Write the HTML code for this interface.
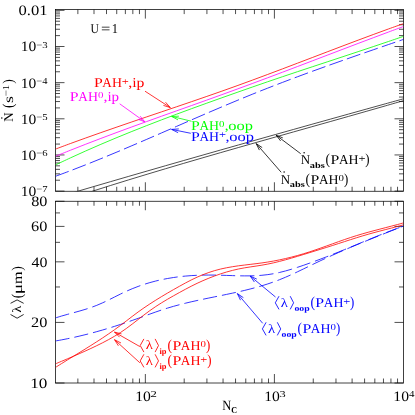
<!DOCTYPE html><html><head><meta charset="utf-8"><style>html,body{margin:0;padding:0;background:#fff}svg{display:block}text{font-family:"Liberation Serif",serif;font-kerning:none;white-space:pre;text-rendering:geometricPrecision;}.r text{stroke:none}</style></head><body>
<svg width="415" height="415" viewBox="0 0 415 415">
<rect width="415" height="415" fill="#fff"/><g opacity="0.999">
<path d="M77.87 191.25v-4.5M77.87 9.6v4.5M94.00 191.25v-4.5M94.00 9.6v4.5M106.50 191.25v-4.5M106.50 9.6v4.5M116.72 191.25v-4.5M116.72 9.6v4.5M125.36 191.25v-4.5M125.36 9.6v4.5M132.84 191.25v-4.5M132.84 9.6v4.5M139.44 191.25v-4.5M139.44 9.6v4.5M145.35 191.25v-9M145.35 9.6v9M184.20 191.25v-4.5M184.20 9.6v4.5M206.92 191.25v-4.5M206.92 9.6v4.5M223.05 191.25v-4.5M223.05 9.6v4.5M235.55 191.25v-4.5M235.55 9.6v4.5M245.77 191.25v-4.5M245.77 9.6v4.5M254.41 191.25v-4.5M254.41 9.6v4.5M261.89 191.25v-4.5M261.89 9.6v4.5M268.49 191.25v-4.5M268.49 9.6v4.5M274.40 191.25v-9M274.40 9.6v9M313.25 191.25v-4.5M313.25 9.6v4.5M335.97 191.25v-4.5M335.97 9.6v4.5M352.10 191.25v-4.5M352.10 9.6v4.5M364.60 191.25v-4.5M364.60 9.6v4.5M374.82 191.25v-4.5M374.82 9.6v4.5M383.46 191.25v-4.5M383.46 9.6v4.5M390.94 191.25v-4.5M390.94 9.6v4.5M397.54 191.25v-4.5M397.54 9.6v4.5M77.87 383.0v-4.5M77.87 201.25v4.5M94.00 383.0v-4.5M94.00 201.25v4.5M106.50 383.0v-4.5M106.50 201.25v4.5M116.72 383.0v-4.5M116.72 201.25v4.5M125.36 383.0v-4.5M125.36 201.25v4.5M132.84 383.0v-4.5M132.84 201.25v4.5M139.44 383.0v-4.5M139.44 201.25v4.5M145.35 383.0v-9M145.35 201.25v9M184.20 383.0v-4.5M184.20 201.25v4.5M206.92 383.0v-4.5M206.92 201.25v4.5M223.05 383.0v-4.5M223.05 201.25v4.5M235.55 383.0v-4.5M235.55 201.25v4.5M245.77 383.0v-4.5M245.77 201.25v4.5M254.41 383.0v-4.5M254.41 201.25v4.5M261.89 383.0v-4.5M261.89 201.25v4.5M268.49 383.0v-4.5M268.49 201.25v4.5M274.40 383.0v-9M274.40 201.25v9M313.25 383.0v-4.5M313.25 201.25v4.5M335.97 383.0v-4.5M335.97 201.25v4.5M352.10 383.0v-4.5M352.10 201.25v4.5M364.60 383.0v-4.5M364.60 201.25v4.5M374.82 383.0v-4.5M374.82 201.25v4.5M383.46 383.0v-4.5M383.46 201.25v4.5M390.94 383.0v-4.5M390.94 201.25v4.5M397.54 383.0v-4.5M397.54 201.25v4.5M55.5 191.10h9M403.5 191.10h-9M55.5 180.22h4.5M403.5 180.22h-4.5M55.5 173.85h4.5M403.5 173.85h-4.5M55.5 169.34h4.5M403.5 169.34h-4.5M55.5 165.83h4.5M403.5 165.83h-4.5M55.5 162.97h4.5M403.5 162.97h-4.5M55.5 160.55h4.5M403.5 160.55h-4.5M55.5 158.45h4.5M403.5 158.45h-4.5M55.5 156.60h4.5M403.5 156.60h-4.5M55.5 154.95h9M403.5 154.95h-9M55.5 144.07h4.5M403.5 144.07h-4.5M55.5 137.70h4.5M403.5 137.70h-4.5M55.5 133.19h4.5M403.5 133.19h-4.5M55.5 129.68h4.5M403.5 129.68h-4.5M55.5 126.82h4.5M403.5 126.82h-4.5M55.5 124.40h4.5M403.5 124.40h-4.5M55.5 122.30h4.5M403.5 122.30h-4.5M55.5 120.45h4.5M403.5 120.45h-4.5M55.5 118.80h9M403.5 118.80h-9M55.5 107.92h4.5M403.5 107.92h-4.5M55.5 101.55h4.5M403.5 101.55h-4.5M55.5 97.04h4.5M403.5 97.04h-4.5M55.5 93.53h4.5M403.5 93.53h-4.5M55.5 90.67h4.5M403.5 90.67h-4.5M55.5 88.25h4.5M403.5 88.25h-4.5M55.5 86.15h4.5M403.5 86.15h-4.5M55.5 84.30h4.5M403.5 84.30h-4.5M55.5 82.65h9M403.5 82.65h-9M55.5 71.77h4.5M403.5 71.77h-4.5M55.5 65.40h4.5M403.5 65.40h-4.5M55.5 60.89h4.5M403.5 60.89h-4.5M55.5 57.38h4.5M403.5 57.38h-4.5M55.5 54.52h4.5M403.5 54.52h-4.5M55.5 52.10h4.5M403.5 52.10h-4.5M55.5 50.00h4.5M403.5 50.00h-4.5M55.5 48.15h4.5M403.5 48.15h-4.5M55.5 46.50h9M403.5 46.50h-9M55.5 35.62h4.5M403.5 35.62h-4.5M55.5 29.25h4.5M403.5 29.25h-4.5M55.5 24.74h4.5M403.5 24.74h-4.5M55.5 21.23h4.5M403.5 21.23h-4.5M55.5 18.37h4.5M403.5 18.37h-4.5M55.5 15.95h4.5M403.5 15.95h-4.5M55.5 13.85h4.5M403.5 13.85h-4.5M55.5 12.00h4.5M403.5 12.00h-4.5M55.5 10.35h9M403.5 10.35h-9M55.5 383.00h9M403.5 383.00h-9M55.5 322.42h9M403.5 322.42h-9M55.5 286.98h4.5M403.5 286.98h-4.5M55.5 261.84h9M403.5 261.84h-9M55.5 242.33h4.5M403.5 242.33h-4.5M55.5 226.40h9M403.5 226.40h-9M55.5 212.92h4.5M403.5 212.92h-4.5M55.5 201.25h9M403.5 201.25h-9" stroke="#000" stroke-width="0.7" fill="none"/>
<rect x="55.5" y="9.6" width="348.0" height="181.65" fill="none" stroke="#000" stroke-width="0.75"/>
<rect x="55.5" y="201.25" width="348.0" height="181.75" fill="none" stroke="#000" stroke-width="0.75"/>
<clipPath id="c1"><rect x="55.5" y="9.6" width="348.0" height="181.65"/></clipPath>
<clipPath id="c2"><rect x="55.5" y="201.25" width="348.0" height="181.75"/></clipPath>
<path d="M55.50 197.80C58.55 196.90 67.71 194.19 73.82 192.40C79.92 190.60 86.03 188.81 92.13 187.02C98.24 185.24 104.34 183.45 110.45 181.68C116.55 179.90 122.66 178.12 128.76 176.35C134.87 174.59 140.97 172.82 147.08 171.06C153.18 169.30 159.29 167.54 165.39 165.78C171.50 164.03 177.61 162.28 183.71 160.53C189.82 158.79 195.92 157.04 202.03 155.30C208.13 153.56 214.24 151.82 220.34 150.09C226.45 148.36 232.55 146.63 238.66 144.90C244.76 143.17 250.87 141.44 256.97 139.72C263.08 138.00 269.18 136.28 275.29 134.56C281.39 132.84 287.50 131.13 293.61 129.42C299.71 127.70 305.82 125.99 311.92 124.28C318.03 122.58 324.13 120.87 330.24 119.16C336.34 117.46 342.45 115.76 348.55 114.06C354.66 112.35 360.76 110.65 366.87 108.96C372.97 107.26 379.08 105.56 385.18 103.87C391.29 102.17 400.45 99.63 403.50 98.78" stroke="#000" stroke-width="0.7" fill="none" clip-path="url(#c1)"/>
<path d="M55.50 203.24C58.55 202.24 67.71 199.20 73.82 197.21C79.92 195.22 86.03 193.25 92.13 191.31C98.24 189.36 104.34 187.43 110.45 185.52C116.55 183.61 122.66 181.72 128.76 179.84C134.87 177.97 140.97 176.11 147.08 174.26C153.18 172.42 159.29 170.59 165.39 168.77C171.50 166.95 177.61 165.15 183.71 163.35C189.82 161.56 195.92 159.78 202.03 158.00C208.13 156.23 214.24 154.47 220.34 152.71C226.45 150.95 232.55 149.20 238.66 147.46C244.76 145.72 250.87 143.98 256.97 142.25C263.08 140.52 269.18 138.79 275.29 137.07C281.39 135.34 287.50 133.62 293.61 131.90C299.71 130.18 305.82 128.46 311.92 126.73C318.03 125.01 324.13 123.29 330.24 121.57C336.34 119.84 342.45 118.12 348.55 116.38C354.66 114.65 360.76 112.92 366.87 111.18C372.97 109.44 379.08 107.69 385.18 105.94C391.29 104.18 400.45 101.53 403.50 100.65" stroke="#000" stroke-width="0.7" fill="none" clip-path="url(#c1)"/>
<path d="M55.50 176.29C58.02 175.35 65.59 172.57 70.63 170.65C75.67 168.73 80.72 166.76 85.76 164.77C90.80 162.77 95.85 160.74 100.89 158.68C105.93 156.62 110.98 154.53 116.02 152.42C121.07 150.31 126.11 148.18 131.15 146.03C136.20 143.88 141.24 141.71 146.28 139.54C151.33 137.36 156.37 135.17 161.41 132.98C166.46 130.79 171.50 128.59 176.54 126.40C181.59 124.21 186.63 122.01 191.67 119.82C196.72 117.64 201.76 115.46 206.80 113.29C211.85 111.12 216.89 108.97 221.93 106.83C226.98 104.70 232.02 102.58 237.07 100.49C242.11 98.40 247.15 96.33 252.20 94.29C257.24 92.25 262.28 90.25 267.33 88.27C272.37 86.29 277.41 84.34 282.46 82.42C287.50 80.49 292.54 78.59 297.59 76.72C302.63 74.84 307.67 72.98 312.72 71.15C317.76 69.31 322.80 67.49 327.85 65.69C332.89 63.89 337.93 62.10 342.98 60.32C348.02 58.55 353.07 56.79 358.11 55.03C363.15 53.28 368.20 51.54 373.24 49.80C378.28 48.06 383.33 46.32 388.37 44.59C393.41 42.86 400.98 40.27 403.50 39.40" stroke="#00f" stroke-width="0.8" fill="none" stroke-dasharray="14.2 4.3" stroke-dashoffset="0.3" clip-path="url(#c1)"/>
<path d="M55.50 164.92C58.02 163.73 65.59 160.13 70.63 157.79C75.67 155.46 80.72 153.18 85.76 150.93C90.80 148.69 95.85 146.49 100.89 144.32C105.93 142.15 110.98 140.03 116.02 137.93C121.07 135.84 126.11 133.78 131.15 131.75C136.20 129.72 141.24 127.72 146.28 125.75C151.33 123.78 156.37 121.84 161.41 119.91C166.46 117.99 171.50 116.09 176.54 114.22C181.59 112.34 186.63 110.48 191.67 108.64C196.72 106.79 201.76 104.97 206.80 103.16C211.85 101.34 216.89 99.54 221.93 97.75C226.98 95.96 232.02 94.18 237.07 92.40C242.11 90.63 247.15 88.86 252.20 87.10C257.24 85.34 262.28 83.59 267.33 81.86C272.37 80.14 277.41 78.42 282.46 76.72C287.50 75.02 292.54 73.34 297.59 71.66C302.63 69.98 307.67 68.32 312.72 66.65C317.76 64.98 322.80 63.32 327.85 61.66C332.89 59.99 337.93 58.33 342.98 56.67C348.02 55.00 353.07 53.33 358.11 51.66C363.15 49.98 368.20 48.30 373.24 46.62C378.28 44.93 383.33 43.23 388.37 41.52C393.41 39.81 400.98 37.22 403.50 36.36" stroke="#0f0" stroke-width="0.8" fill="none" clip-path="url(#c1)"/>
<path d="M55.50 156.29C58.02 155.27 65.59 152.17 70.63 150.16C75.67 148.15 80.72 146.17 85.76 144.21C90.80 142.25 95.85 140.32 100.89 138.41C105.93 136.50 110.98 134.61 116.02 132.74C121.07 130.87 126.11 129.02 131.15 127.18C136.20 125.33 141.24 123.51 146.28 121.69C151.33 119.87 156.37 118.07 161.41 116.26C166.46 114.46 171.50 112.67 176.54 110.87C181.59 109.07 186.63 107.28 191.67 105.49C196.72 103.69 201.76 101.89 206.80 100.08C211.85 98.28 216.89 96.47 221.93 94.64C226.98 92.82 232.02 90.99 237.07 89.14C242.11 87.29 247.15 85.43 252.20 83.56C257.24 81.69 262.28 79.81 267.33 77.92C272.37 76.03 277.41 74.12 282.46 72.22C287.50 70.31 292.54 68.40 297.59 66.49C302.63 64.57 307.67 62.65 312.72 60.73C317.76 58.81 322.80 56.88 327.85 54.96C332.89 53.04 337.93 51.12 342.98 49.20C348.02 47.28 353.07 45.36 358.11 43.45C363.15 41.54 368.20 39.64 373.24 37.74C378.28 35.85 383.33 33.96 388.37 32.08C393.41 30.20 400.98 27.41 403.50 26.48" stroke="#f0f" stroke-width="0.8" fill="none" clip-path="url(#c1)"/>
<path d="M55.50 149.08C58.02 148.15 65.59 145.31 70.63 143.45C75.67 141.60 80.72 139.78 85.76 137.97C90.80 136.17 95.85 134.39 100.89 132.62C105.93 130.85 110.98 129.10 116.02 127.36C121.07 125.62 126.11 123.89 131.15 122.17C136.20 120.45 141.24 118.74 146.28 117.03C151.33 115.32 156.37 113.62 161.41 111.91C166.46 110.20 171.50 108.50 176.54 106.79C181.59 105.07 186.63 103.36 191.67 101.63C196.72 99.90 201.76 98.17 206.80 96.42C211.85 94.67 216.89 92.91 221.93 91.13C226.98 89.34 232.02 87.55 237.07 85.73C242.11 83.91 247.15 82.06 252.20 80.21C257.24 78.35 262.28 76.47 267.33 74.59C272.37 72.70 277.41 70.80 282.46 68.90C287.50 66.99 292.54 65.07 297.59 63.15C302.63 61.24 307.67 59.31 312.72 57.39C317.76 55.46 322.80 53.54 327.85 51.62C332.89 49.70 337.93 47.78 342.98 45.87C348.02 43.96 353.07 42.06 358.11 40.17C363.15 38.28 368.20 36.40 373.24 34.54C378.28 32.69 383.33 30.84 388.37 29.01C393.41 27.19 400.98 24.51 403.50 23.61" stroke="#f00" stroke-width="0.8" fill="none" clip-path="url(#c1)"/>
<path d="M55.50 317.90C56.48 317.60 59.43 316.67 61.40 316.09C63.36 315.51 65.33 314.96 67.30 314.42C69.26 313.87 71.23 313.35 73.19 312.81C75.16 312.27 77.13 311.74 79.09 311.18C81.06 310.62 83.03 310.06 84.99 309.45C86.96 308.84 88.92 308.21 90.89 307.53C92.86 306.84 94.82 306.12 96.79 305.33C98.75 304.54 100.72 303.68 102.69 302.79C104.65 301.90 106.62 300.94 108.58 299.98C110.55 299.03 112.52 298.02 114.48 297.04C116.45 296.06 118.42 295.06 120.38 294.10C122.35 293.14 124.31 292.19 126.28 291.30C128.25 290.41 130.21 289.55 132.18 288.74C134.14 287.94 136.11 287.17 138.08 286.45C140.04 285.73 142.01 285.05 143.97 284.41C145.94 283.77 147.91 283.17 149.87 282.60C151.84 282.04 153.81 281.51 155.77 281.02C157.74 280.53 159.70 280.08 161.67 279.65C163.64 279.23 165.60 278.85 167.57 278.49C169.53 278.13 171.50 277.81 173.47 277.52C175.43 277.22 177.40 276.96 179.36 276.72C181.33 276.49 183.30 276.28 185.26 276.10C187.23 275.92 189.19 275.76 191.16 275.63C193.13 275.50 195.09 275.39 197.06 275.30C199.03 275.22 200.99 275.16 202.96 275.11C204.92 275.07 206.89 275.05 208.86 275.04C210.82 275.04 212.79 275.06 214.75 275.09C216.72 275.11 218.69 275.17 220.65 275.22C222.62 275.28 224.58 275.35 226.55 275.41C228.52 275.48 230.48 275.56 232.45 275.62C234.42 275.68 236.38 275.75 238.35 275.79C240.31 275.84 242.28 275.88 244.25 275.89C246.21 275.90 248.18 275.90 250.14 275.86C252.11 275.83 254.08 275.77 256.04 275.67C258.01 275.58 259.97 275.45 261.94 275.27C263.91 275.10 265.87 274.89 267.84 274.62C269.81 274.35 271.77 274.04 273.74 273.67C275.70 273.31 277.67 272.89 279.64 272.44C281.60 271.98 283.57 271.48 285.53 270.95C287.50 270.42 289.47 269.85 291.43 269.25C293.40 268.66 295.36 268.03 297.33 267.39C299.30 266.75 301.26 266.07 303.23 265.40C305.19 264.72 307.16 264.02 309.13 263.31C311.09 262.61 313.06 261.89 315.03 261.16C316.99 260.44 318.96 259.70 320.92 258.95C322.89 258.21 324.86 257.45 326.82 256.69C328.79 255.92 330.75 255.15 332.72 254.37C334.69 253.59 336.65 252.80 338.62 252.01C340.58 251.22 342.55 250.42 344.52 249.61C346.48 248.81 348.45 248.00 350.42 247.18C352.38 246.37 354.35 245.56 356.31 244.74C358.28 243.92 360.25 243.11 362.21 242.29C364.18 241.48 366.14 240.66 368.11 239.85C370.08 239.04 372.04 238.24 374.01 237.44C375.97 236.64 377.94 235.84 379.91 235.06C381.87 234.27 383.84 233.49 385.81 232.72C387.77 231.96 389.74 231.20 391.70 230.46C393.67 229.71 395.64 228.98 397.60 228.26C399.57 227.54 402.52 226.51 403.50 226.16" stroke="#00f" stroke-width="0.8" fill="none" stroke-dasharray="14.2 5" stroke-dashoffset="0" clip-path="url(#c2)"/>
<path d="M55.50 340.96C56.48 340.79 59.43 340.28 61.40 339.91C63.36 339.54 65.33 339.16 67.30 338.76C69.26 338.36 71.23 337.95 73.19 337.52C75.16 337.09 77.13 336.64 79.09 336.18C81.06 335.72 83.03 335.25 84.99 334.76C86.96 334.27 88.92 333.76 90.89 333.24C92.86 332.73 94.82 332.19 96.79 331.65C98.75 331.10 100.72 330.54 102.69 329.97C104.65 329.40 106.62 328.81 108.58 328.21C110.55 327.61 112.52 327.00 114.48 326.38C116.45 325.76 118.42 325.12 120.38 324.47C122.35 323.82 124.31 323.16 126.28 322.49C128.25 321.82 130.21 321.14 132.18 320.45C134.14 319.76 136.11 319.06 138.08 318.36C140.04 317.65 142.01 316.94 143.97 316.22C145.94 315.51 147.91 314.79 149.87 314.08C151.84 313.38 153.81 312.67 155.77 311.98C157.74 311.30 159.70 310.62 161.67 309.97C163.64 309.32 165.60 308.68 167.57 308.08C169.53 307.48 171.50 306.90 173.47 306.34C175.43 305.79 177.40 305.25 179.36 304.74C181.33 304.22 183.30 303.72 185.26 303.24C187.23 302.76 189.19 302.30 191.16 301.84C193.13 301.39 195.09 300.95 197.06 300.52C199.03 300.09 200.99 299.67 202.96 299.25C204.92 298.84 206.89 298.43 208.86 298.03C210.82 297.62 212.79 297.22 214.75 296.82C216.72 296.42 218.69 296.02 220.65 295.62C222.62 295.22 224.58 294.81 226.55 294.40C228.52 293.99 230.48 293.58 232.45 293.15C234.42 292.72 236.38 292.29 238.35 291.85C240.31 291.40 242.28 290.95 244.25 290.47C246.21 290.00 248.18 289.52 250.14 289.01C252.11 288.51 254.08 287.99 256.04 287.44C258.01 286.90 259.97 286.34 261.94 285.75C263.91 285.15 265.87 284.54 267.84 283.90C269.81 283.25 271.77 282.58 273.74 281.87C275.70 281.17 277.67 280.43 279.64 279.66C281.60 278.88 283.57 278.06 285.53 277.23C287.50 276.39 289.47 275.51 291.43 274.62C293.40 273.73 295.36 272.81 297.33 271.88C299.30 270.95 301.26 270.01 303.23 269.06C305.19 268.11 307.16 267.15 309.13 266.20C311.09 265.24 313.06 264.28 315.03 263.34C316.99 262.39 318.96 261.45 320.92 260.53C322.89 259.60 324.86 258.69 326.82 257.79C328.79 256.88 330.75 255.99 332.72 255.11C334.69 254.23 336.65 253.36 338.62 252.50C340.58 251.63 342.55 250.78 344.52 249.94C346.48 249.09 348.45 248.25 350.42 247.42C352.38 246.59 354.35 245.77 356.31 244.95C358.28 244.13 360.25 243.32 362.21 242.52C364.18 241.71 366.14 240.91 368.11 240.11C370.08 239.31 372.04 238.52 374.01 237.73C375.97 236.94 377.94 236.16 379.91 235.37C381.87 234.59 383.84 233.81 385.81 233.02C387.77 232.24 389.74 231.46 391.70 230.68C393.67 229.90 395.64 229.12 397.60 228.34C399.57 227.56 402.52 226.39 403.50 226.00" stroke="#00f" stroke-width="0.8" fill="none" stroke-dasharray="14.2 5" stroke-dashoffset="0" clip-path="url(#c2)"/>
<path d="M55.50 367.41C56.48 366.79 59.43 364.92 61.40 363.69C63.36 362.46 65.33 361.25 67.30 360.03C69.26 358.82 71.23 357.62 73.19 356.41C75.16 355.20 77.13 354.00 79.09 352.79C81.06 351.58 83.03 350.38 84.99 349.16C86.96 347.94 88.92 346.72 90.89 345.48C92.86 344.24 94.82 342.99 96.79 341.73C98.75 340.46 100.72 339.18 102.69 337.88C104.65 336.57 106.62 335.25 108.58 333.90C110.55 332.55 112.52 331.18 114.48 329.78C116.45 328.38 118.42 326.95 120.38 325.48C122.35 324.02 124.31 322.50 126.28 320.99C128.25 319.48 130.21 317.93 132.18 316.44C134.14 314.94 136.11 313.45 138.08 312.02C140.04 310.59 142.01 309.21 143.97 307.86C145.94 306.52 147.91 305.22 149.87 303.93C151.84 302.65 153.81 301.40 155.77 300.17C157.74 298.94 159.70 297.73 161.67 296.54C163.64 295.36 165.60 294.19 167.57 293.04C169.53 291.89 171.50 290.76 173.47 289.64C175.43 288.52 177.40 287.41 179.36 286.32C181.33 285.23 183.30 284.14 185.26 283.08C187.23 282.03 189.19 280.99 191.16 280.01C193.13 279.03 195.09 278.08 197.06 277.20C199.03 276.31 200.99 275.47 202.96 274.68C204.92 273.89 206.89 273.15 208.86 272.47C210.82 271.79 212.79 271.16 214.75 270.59C216.72 270.01 218.69 269.50 220.65 269.03C222.62 268.56 224.58 268.14 226.55 267.76C228.52 267.37 230.48 267.03 232.45 266.72C234.42 266.40 236.38 266.12 238.35 265.84C240.31 265.57 242.28 265.33 244.25 265.08C246.21 264.84 248.18 264.62 250.14 264.38C252.11 264.15 254.08 263.92 256.04 263.68C258.01 263.43 259.97 263.19 261.94 262.91C263.91 262.64 265.87 262.35 267.84 262.03C269.81 261.71 271.77 261.38 273.74 261.01C275.70 260.65 277.67 260.26 279.64 259.85C281.60 259.45 283.57 259.01 285.53 258.56C287.50 258.10 289.47 257.62 291.43 257.12C293.40 256.62 295.36 256.10 297.33 255.55C299.30 255.00 301.26 254.43 303.23 253.84C305.19 253.25 307.16 252.63 309.13 252.00C311.09 251.36 313.06 250.70 315.03 250.03C316.99 249.36 318.96 248.67 320.92 247.98C322.89 247.29 324.86 246.58 326.82 245.88C328.79 245.17 330.75 244.46 332.72 243.75C334.69 243.04 336.65 242.33 338.62 241.64C340.58 240.94 342.55 240.24 344.52 239.56C346.48 238.89 348.45 238.22 350.42 237.57C352.38 236.92 354.35 236.29 356.31 235.69C358.28 235.08 360.25 234.49 362.21 233.92C364.18 233.35 366.14 232.80 368.11 232.25C370.08 231.71 372.04 231.18 374.01 230.66C375.97 230.13 377.94 229.62 379.91 229.11C381.87 228.60 383.84 228.09 385.81 227.59C387.77 227.08 389.74 226.57 391.70 226.06C393.67 225.54 395.64 225.03 397.60 224.50C399.57 223.97 402.52 223.16 403.50 222.89" stroke="#f00" stroke-width="0.8" fill="none" clip-path="url(#c2)"/>
<path d="M55.50 363.84C56.48 363.43 59.43 362.19 61.40 361.36C63.36 360.54 65.33 359.71 67.30 358.88C69.26 358.04 71.23 357.20 73.19 356.36C75.16 355.51 77.13 354.66 79.09 353.79C81.06 352.93 83.03 352.05 84.99 351.16C86.96 350.28 88.92 349.38 90.89 348.46C92.86 347.54 94.82 346.60 96.79 345.65C98.75 344.69 100.72 343.73 102.69 342.72C104.65 341.72 106.62 340.70 108.58 339.62C110.55 338.55 112.52 337.44 114.48 336.27C116.45 335.10 118.42 333.88 120.38 332.59C122.35 331.30 124.31 329.93 126.28 328.52C128.25 327.11 130.21 325.62 132.18 324.12C134.14 322.63 136.11 321.07 138.08 319.55C140.04 318.03 142.01 316.47 143.97 314.98C145.94 313.49 147.91 312.01 149.87 310.60C151.84 309.19 153.81 307.84 155.77 306.53C157.74 305.23 159.70 303.98 161.67 302.76C163.64 301.54 165.60 300.37 167.57 299.21C169.53 298.06 171.50 296.94 173.47 295.84C175.43 294.73 177.40 293.64 179.36 292.56C181.33 291.48 183.30 290.40 185.26 289.35C187.23 288.30 189.19 287.25 191.16 286.25C193.13 285.25 195.09 284.28 197.06 283.35C199.03 282.42 200.99 281.52 202.96 280.66C204.92 279.80 206.89 278.97 208.86 278.18C210.82 277.39 212.79 276.64 214.75 275.91C216.72 275.19 218.69 274.50 220.65 273.85C222.62 273.20 224.58 272.59 226.55 272.01C228.52 271.43 230.48 270.89 232.45 270.40C234.42 269.90 236.38 269.44 238.35 269.03C240.31 268.61 242.28 268.25 244.25 267.90C246.21 267.56 248.18 267.26 250.14 266.96C252.11 266.65 254.08 266.38 256.04 266.08C258.01 265.78 259.97 265.49 261.94 265.15C263.91 264.82 265.87 264.46 267.84 264.07C269.81 263.68 271.77 263.25 273.74 262.80C275.70 262.34 277.67 261.86 279.64 261.36C281.60 260.86 283.57 260.34 285.53 259.80C287.50 259.26 289.47 258.70 291.43 258.13C293.40 257.56 295.36 256.97 297.33 256.38C299.30 255.80 301.26 255.19 303.23 254.60C305.19 254.00 307.16 253.39 309.13 252.79C311.09 252.19 313.06 251.58 315.03 250.98C316.99 250.37 318.96 249.76 320.92 249.15C322.89 248.54 324.86 247.92 326.82 247.30C328.79 246.68 330.75 246.06 332.72 245.43C334.69 244.80 336.65 244.17 338.62 243.53C340.58 242.89 342.55 242.25 344.52 241.61C346.48 240.97 348.45 240.33 350.42 239.69C352.38 239.06 354.35 238.44 356.31 237.82C358.28 237.21 360.25 236.60 362.21 236.01C364.18 235.41 366.14 234.83 368.11 234.27C370.08 233.70 372.04 233.15 374.01 232.62C375.97 232.08 377.94 231.57 379.91 231.05C381.87 230.54 383.84 230.04 385.81 229.53C387.77 229.03 389.74 228.53 391.70 228.02C393.67 227.50 395.64 226.98 397.60 226.44C399.57 225.90 402.52 225.05 403.50 224.77" stroke="#f00" stroke-width="0.8" fill="none" clip-path="url(#c2)"/>
<path d="M145.0 91.2L170.3 107.6M163.4 105.4L170.3 107.6L165.5 102.2" stroke="#f00" stroke-width="0.8" fill="none"/>
<path d="M119.7 103.8L144.8 121.8M138.0 119.3L144.8 121.8L140.2 116.2" stroke="#f0f" stroke-width="0.8" fill="none"/>
<path d="M191.3 121.2L171.6 116.4M178.9 116.2L171.6 116.4L178.0 119.9" stroke="#0f0" stroke-width="0.8" fill="none"/>
<path d="M190.8 133.3L171.6 129.4M178.8 128.9L171.6 129.4L178.1 132.7" stroke="#00f" stroke-width="0.8" fill="none"/>
<path d="M300.7 153.7L276.1 135.2M282.8 137.9L276.1 135.2L280.6 140.9" stroke="#000" stroke-width="0.8" fill="none"/>
<path d="M281.2 172.3L256.2 143.6M262.2 147.6L256.2 143.6L259.4 150.1" stroke="#000" stroke-width="0.8" fill="none"/>
<path d="M139.9 346.6L114.5 332.1M121.5 333.9L114.5 332.1L119.6 337.2" stroke="#f00" stroke-width="0.8" fill="none"/>
<path d="M139.9 362.8L114.5 339.7M121.0 343.0L114.5 339.7L118.4 345.8" stroke="#f00" stroke-width="0.8" fill="none"/>
<path d="M275.5 297.0L250.2 276.1M256.8 279.1L250.2 276.1L254.4 282.0" stroke="#00f" stroke-width="0.8" fill="none"/>
<path d="M262.7 323.3L237.4 293.6M243.4 297.7L237.4 293.6L240.5 300.2" stroke="#00f" stroke-width="0.8" fill="none"/>
<text transform="translate(18.57,14.50) scale(1.152,1)" font-size="14.4" fill="#000">0.01</text>
<text transform="translate(20.63,51.40) scale(1.081,1)" font-size="14.4" fill="#000">10</text>
<text transform="translate(36.26,47.60) scale(1.196,1)" font-size="9.0" fill="#000">−3</text>
<text transform="translate(20.63,87.55) scale(1.081,1)" font-size="14.4" fill="#000">10</text>
<text transform="translate(36.28,83.75) scale(1.168,1)" font-size="9.0" fill="#000">−4</text>
<text transform="translate(20.63,123.70) scale(1.081,1)" font-size="14.4" fill="#000">10</text>
<text transform="translate(36.26,119.90) scale(1.196,1)" font-size="9.0" fill="#000">−5</text>
<text transform="translate(20.63,159.85) scale(1.081,1)" font-size="14.4" fill="#000">10</text>
<text transform="translate(36.27,156.05) scale(1.185,1)" font-size="9.0" fill="#000">−6</text>
<text transform="translate(20.63,196.00) scale(1.081,1)" font-size="14.4" fill="#000">10</text>
<text transform="translate(36.27,192.20) scale(1.184,1)" font-size="9.0" fill="#000">−7</text>
<text transform="translate(31.18,206.05) scale(1.128,1)" font-size="14.4" fill="#000">80</text>
<text transform="translate(31.10,231.20) scale(1.134,1)" font-size="14.4" fill="#000">60</text>
<text transform="translate(31.49,266.64) scale(1.105,1)" font-size="14.4" fill="#000">40</text>
<text transform="translate(31.08,327.22) scale(1.135,1)" font-size="14.4" fill="#000">20</text>
<text transform="translate(30.29,387.80) scale(1.192,1)" font-size="14.4" fill="#000">10</text>
<text transform="translate(135.22,400.60) scale(1.089,1)" font-size="14.4" fill="#000">10</text>
<text transform="translate(150.44,397.20) scale(1.414,1)" font-size="9.0" fill="#000">2</text>
<text transform="translate(264.27,400.60) scale(1.089,1)" font-size="14.4" fill="#000">10</text>
<text transform="translate(279.46,397.20) scale(1.372,1)" font-size="9.0" fill="#000">3</text>
<text transform="translate(393.32,400.60) scale(1.089,1)" font-size="14.4" fill="#000">10</text>
<text transform="translate(408.89,397.20) scale(1.219,1)" font-size="9.0" fill="#000">4</text>
<text transform="translate(222.24,409.60) scale(0.882,1)" font-size="14.2" fill="#000">N</text>
<text transform="translate(231.31,413.40) scale(0.893,1)" font-size="9" fill="#000" font-weight="bold">C</text>
<text transform="translate(90.56,32.70) scale(0.860,1)" font-size="13.5" fill="#000">U</text>
<text transform="translate(100.98,32.70) scale(1.226,1)" font-size="13.5" fill="#000">=</text>
<text transform="translate(111.70,32.70) scale(0.926,1)" font-size="13.5" fill="#000">1</text>
<text transform="translate(93.94,87.30) scale(1.170,1)" font-size="13.5" fill="#f00">P</text>
<text transform="translate(102.37,87.30) scale(0.977,1)" font-size="13.5" fill="#f00">A</text>
<text transform="translate(112.00,87.30) scale(1.026,1)" font-size="13.5" fill="#f00">H</text>
<text transform="translate(121.78,84.50) scale(1.222,1)" font-size="10.2" fill="#f00">+</text>
<text transform="translate(128.29,87.30) scale(1.194,1)" font-size="13.5" fill="#f00">,</text>
<text transform="translate(132.17,87.30) scale(1.166,1)" font-size="13.5" fill="#f00">ip</text>
<text transform="translate(69.84,100.80) scale(1.170,1)" font-size="13.5" fill="#f0f">P</text>
<text transform="translate(78.27,100.80) scale(0.977,1)" font-size="13.5" fill="#f0f">A</text>
<text transform="translate(87.90,100.80) scale(1.026,1)" font-size="13.5" fill="#f0f">H</text>
<text transform="translate(97.89,97.80) scale(1.206,1)" font-size="9.0" fill="#f0f">0</text>
<text transform="translate(103.49,100.80) scale(1.194,1)" font-size="13.5" fill="#f0f">,</text>
<text transform="translate(107.38,100.80) scale(1.115,1)" font-size="13.5" fill="#f0f">ip</text>
<text transform="translate(191.04,129.50) scale(1.170,1)" font-size="13.5" fill="#0f0">P</text>
<text transform="translate(199.47,129.50) scale(0.977,1)" font-size="13.5" fill="#0f0">A</text>
<text transform="translate(209.10,129.50) scale(1.026,1)" font-size="13.5" fill="#0f0">H</text>
<text transform="translate(219.09,126.50) scale(1.206,1)" font-size="9.0" fill="#0f0">0</text>
<text transform="translate(224.71,129.50) scale(1.144,1)" font-size="13.5" fill="#0f0">,</text>
<text transform="translate(228.27,129.50) scale(1.218,1)" font-size="13.5" fill="#0f0">oop</text>
<text transform="translate(191.04,141.20) scale(1.170,1)" font-size="13.5" fill="#00f">P</text>
<text transform="translate(199.47,141.20) scale(0.977,1)" font-size="13.5" fill="#00f">A</text>
<text transform="translate(209.10,141.20) scale(1.026,1)" font-size="13.5" fill="#00f">H</text>
<text transform="translate(218.88,138.40) scale(1.222,1)" font-size="10.2" fill="#00f">+</text>
<text transform="translate(225.59,141.20) scale(1.194,1)" font-size="13.5" fill="#00f">,</text>
<text transform="translate(229.27,141.20) scale(1.223,1)" font-size="13.5" fill="#00f">oop</text>
<path d="M143.9 338.9L140.2 345.5L143.9 352.1M155.1 338.9L158.5 345.5L155.1 352.1" stroke="#f00" stroke-width="0.85" fill="none"/>
<text transform="translate(145.72,349.40) scale(1.156,1)" font-size="12.6" fill="#f00">λ</text>
<text transform="translate(159.51,353.50) scale(1.015,1)" font-size="8.3" fill="#f00" font-weight="bold">ip</text>
<text transform="translate(167.50,350.00) scale(0.897,1)" font-size="15.2" fill="#f00">(</text>
<text transform="translate(172.44,350.00) scale(1.170,1)" font-size="13.5" fill="#f00">P</text>
<text transform="translate(180.87,350.00) scale(0.977,1)" font-size="13.5" fill="#f00">A</text>
<text transform="translate(190.50,350.00) scale(1.026,1)" font-size="13.5" fill="#f00">H</text>
<text transform="translate(200.49,347.00) scale(1.206,1)" font-size="9.0" fill="#f00">0</text>
<text transform="translate(205.99,350.00) scale(0.845,1)" font-size="15.2" fill="#f00">)</text>
<path d="M143.9 354.3L140.2 360.9L143.9 367.4M155.1 354.3L158.5 360.9L155.1 367.4" stroke="#f00" stroke-width="0.85" fill="none"/>
<text transform="translate(145.72,364.80) scale(1.156,1)" font-size="12.6" fill="#f00">λ</text>
<text transform="translate(159.51,368.90) scale(1.015,1)" font-size="8.3" fill="#f00" font-weight="bold">ip</text>
<text transform="translate(167.50,365.40) scale(0.897,1)" font-size="15.2" fill="#f00">(</text>
<text transform="translate(172.44,365.40) scale(1.170,1)" font-size="13.5" fill="#f00">P</text>
<text transform="translate(180.87,365.40) scale(0.977,1)" font-size="13.5" fill="#f00">A</text>
<text transform="translate(190.50,365.40) scale(1.026,1)" font-size="13.5" fill="#f00">H</text>
<text transform="translate(200.28,362.60) scale(1.222,1)" font-size="10.2" fill="#f00">+</text>
<text transform="translate(207.19,365.40) scale(0.845,1)" font-size="15.2" fill="#f00">)</text>
<path d="M279.0 296.2L275.3 302.8L279.0 309.4M290.2 296.2L293.6 302.8L290.2 309.4" stroke="#00f" stroke-width="0.85" fill="none"/>
<text transform="translate(280.82,306.70) scale(1.156,1)" font-size="12.6" fill="#00f">λ</text>
<text transform="translate(294.43,310.80) scale(1.174,1)" font-size="8.3" fill="#00f" font-weight="bold">oop</text>
<text transform="translate(310.40,307.30) scale(0.897,1)" font-size="15.2" fill="#00f">(</text>
<text transform="translate(315.34,307.30) scale(1.170,1)" font-size="13.5" fill="#00f">P</text>
<text transform="translate(323.77,307.30) scale(0.977,1)" font-size="13.5" fill="#00f">A</text>
<text transform="translate(333.40,307.30) scale(1.026,1)" font-size="13.5" fill="#00f">H</text>
<text transform="translate(343.18,304.50) scale(1.222,1)" font-size="10.2" fill="#00f">+</text>
<text transform="translate(350.09,307.30) scale(0.845,1)" font-size="15.2" fill="#00f">)</text>
<path d="M266.1 322.3L262.4 328.9L266.1 335.4M277.3 322.3L280.7 328.9L277.3 335.4" stroke="#00f" stroke-width="0.85" fill="none"/>
<text transform="translate(267.92,332.80) scale(1.156,1)" font-size="12.6" fill="#00f">λ</text>
<text transform="translate(281.53,336.90) scale(1.174,1)" font-size="8.3" fill="#00f" font-weight="bold">oop</text>
<text transform="translate(297.50,333.40) scale(0.897,1)" font-size="15.2" fill="#00f">(</text>
<text transform="translate(302.44,333.40) scale(1.170,1)" font-size="13.5" fill="#00f">P</text>
<text transform="translate(310.87,333.40) scale(0.977,1)" font-size="13.5" fill="#00f">A</text>
<text transform="translate(320.50,333.40) scale(1.026,1)" font-size="13.5" fill="#00f">H</text>
<text transform="translate(330.49,330.40) scale(1.206,1)" font-size="9.0" fill="#00f">0</text>
<text transform="translate(335.99,333.40) scale(0.845,1)" font-size="15.2" fill="#00f">)</text>
<text transform="translate(300.63,164.30) scale(0.961,1)" font-size="13.5" fill="#000">N</text>
<circle cx="304.1" cy="152.7" r="0.75" fill="#000"/>
<text transform="translate(309.87,167.60) scale(1.249,1)" font-size="8.3" fill="#000" font-weight="bold">abs</text>
<text transform="translate(325.60,164.30) scale(0.897,1)" font-size="15.2" fill="#000">(</text>
<text transform="translate(330.54,164.30) scale(1.170,1)" font-size="13.5" fill="#000">P</text>
<text transform="translate(338.97,164.30) scale(0.977,1)" font-size="13.5" fill="#000">A</text>
<text transform="translate(348.60,164.30) scale(1.026,1)" font-size="13.5" fill="#000">H</text>
<text transform="translate(358.38,161.50) scale(1.222,1)" font-size="10.2" fill="#000">+</text>
<text transform="translate(365.29,164.30) scale(0.845,1)" font-size="15.2" fill="#000">)</text>
<text transform="translate(280.63,183.60) scale(0.961,1)" font-size="13.5" fill="#000">N</text>
<circle cx="284.1" cy="172.0" r="0.75" fill="#000"/>
<text transform="translate(289.87,186.90) scale(1.249,1)" font-size="8.3" fill="#000" font-weight="bold">abs</text>
<text transform="translate(305.60,183.60) scale(0.897,1)" font-size="15.2" fill="#000">(</text>
<text transform="translate(310.54,183.60) scale(1.170,1)" font-size="13.5" fill="#000">P</text>
<text transform="translate(318.97,183.60) scale(0.977,1)" font-size="13.5" fill="#000">A</text>
<text transform="translate(328.60,183.60) scale(1.026,1)" font-size="13.5" fill="#000">H</text>
<text transform="translate(338.59,180.60) scale(1.206,1)" font-size="9.0" fill="#000">0</text>
<text transform="translate(344.09,183.60) scale(0.845,1)" font-size="15.2" fill="#000">)</text>
<g class="r" transform="translate(13.2,121.3) rotate(-90)">
<text transform="translate(-0.37,0.00) scale(0.950,1)" font-size="13.5" fill="#000">N</text>
<circle cx="3.3" cy="-11.4" r="0.75" fill="#000"/>
<text transform="translate(13.40,0.00) scale(0.897,1)" font-size="15.2" fill="#000">(</text>
<text transform="translate(18.28,0.00) scale(1.306,1)" font-size="13.5" fill="#000">s</text>
<text transform="translate(24.95,-4.20) scale(1.223,1)" font-size="9.0" fill="#000">−1</text>
<text transform="translate(37.56,0.00) scale(0.897,1)" font-size="15.2" fill="#000">)</text>
</g>
<g class="r" transform="translate(21.6,318.6) rotate(-90)">
<path d="M4.1 -11.05L0.4 -4.5L4.1 2.05M15.3 -11.05L18.7 -4.5L15.3 2.05" stroke="#000" stroke-width="0.85" fill="none"/>
<text transform="translate(5.92,-0.60) scale(1.156,1)" font-size="12.6" fill="#000">λ</text>
<text transform="translate(20.40,0.00) scale(0.897,1)" font-size="15.2" fill="#000">(</text>
<text transform="translate(24.43,0.00) scale(1.431,1)" font-size="13.5" fill="#000">μ</text>
<text transform="translate(34.66,0.00) scale(1.199,1)" font-size="13.5" fill="#000">m</text>
<text transform="translate(47.86,0.00) scale(0.897,1)" font-size="15.2" fill="#000">)</text>
</g>
</g></svg></body></html>
